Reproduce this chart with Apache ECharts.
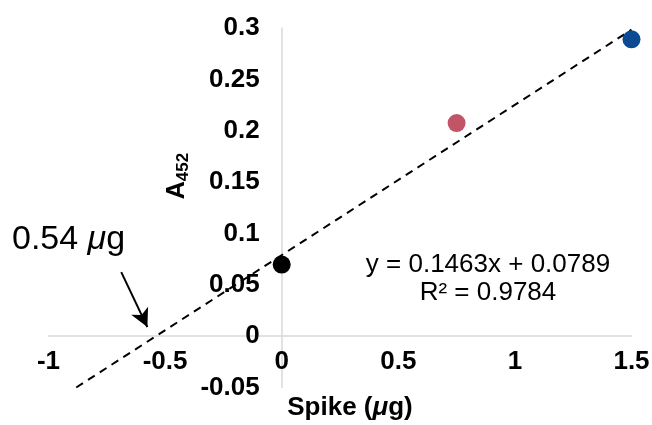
<!DOCTYPE html>
<html>
<head>
<meta charset="utf-8">
<script src="https://cdn.jsdelivr.net/npm/echarts@6/dist/echarts.min.js"></script>
<style>
  html, body { margin: 0; padding: 0; background: #fff; }
  #chart { width: 652px; height: 425px; }
</style>
</head>
<body>
<div id="chart"></div>
<script>
// Standard-addition spike data
const spikeAmounts = [0, 0.75, 1.5];
const absorbance = [0.0697, 0.2074, 0.2890];
const pointColors = ['#000000', '#c25467', '#0b4a92'];

// Linear fit stated on the chart
const fitSlope = 0.1463;
const fitIntercept = 0.0789;
const fitR2 = 0.9784;

const xTicks = [-1, -0.5, 0, 0.5, 1, 1.5];
const yTicks = [-0.05, 0, 0.05, 0.1, 0.15, 0.2, 0.25, 0.3];

const xMin = xTicks[0], xMax = xTicks[xTicks.length - 1];
const yMin = yTicks[0], yMax = yTicks[yTicks.length - 1];

// Trend line runs from where it enters the plot at the bottom edge to the last spike
const trendStartX = (yMin - fitIntercept) / fitSlope;
const trendLine = [trendStartX, xMax].map(x => [x, fitIntercept + fitSlope * x]);

// Arrow marking the x-intercept (endpoints in data units)
const arrowFrom = [-0.688, 0.0623];
const arrowTo = [-0.576, 0.0088];

// Plot area in pixels
const gridLeft = 48.5, gridRight = 20.5, gridTop = 28, gridBottom = 37.5;
const W = 652, H = 425;
const plotW = W - gridLeft - gridRight;
const plotH = H - gridTop - gridBottom;
// Axes cross at the origin: shift each axis from its grid edge onto zero
const xAxisShift = -plotH * (0 - yMin) / (yMax - yMin);
const yAxisShift = -plotW * (0 - xMin) / (xMax - xMin);

const chart = echarts.init(document.getElementById('chart'), null, { renderer: 'canvas' });

const labelFont = {
  fontFamily: 'Liberation Sans, Arial, Helvetica, sans-serif',
  fontWeight: 'bold',
  fontSize: 26,
  color: '#000'
};
const fmt = v => String(+v.toFixed(2));

chart.setOption({
  animation: false,
  backgroundColor: '#fff',
  grid: {
    left: gridLeft, right: gridRight, top: gridTop, bottom: gridBottom,
    containLabel: false,
    outerBoundsMode: 'none'
  },
  xAxis: {
    type: 'value',
    min: xMin, max: xMax, interval: 0.5,
    offset: xAxisShift,
    axisLine: { onZero: false, lineStyle: { color: '#d9d9d9', width: 1.5 } },
    axisTick: { show: false },
    splitLine: { show: false },
    axisLabel: Object.assign({ margin: 13, formatter: fmt }, labelFont)
  },
  yAxis: {
    type: 'value',
    min: yMin, max: yMax, interval: 0.05,
    offset: yAxisShift,
    axisLine: { onZero: false, lineStyle: { color: '#d9d9d9', width: 1.5 } },
    axisTick: { show: false },
    splitLine: { show: false },
    axisLabel: Object.assign({ margin: 22, formatter: fmt }, labelFont)
  },
  series: [
    {
      type: 'line',
      data: trendLine,
      showSymbol: false,
      symbol: 'none',
      lineStyle: { color: '#000', width: 2, type: [8, 6] },
      z: 2,
      silent: true,
      markLine: {
        silent: true,
        symbol: ['none', 'arrow'],
        symbolSize: [14, 18],
        label: { show: false },
        lineStyle: { color: '#000', width: 2, type: 'solid' },
        data: [[{ coord: arrowFrom }, { coord: arrowTo }]]
      }
    },
    {
      type: 'scatter',
      data: spikeAmounts.map((x, i) => ({
        value: [x, absorbance[i]],
        itemStyle: { color: pointColors[i], opacity: 1 }
      })),
      symbol: 'circle',
      symbolSize: 18,
      z: 3
    }
  ],
  graphic: [
    {
      type: 'text',
      style: {
        x: 488, y: 279,
        text: 'y = ' + fitSlope.toFixed(4) + 'x + ' + fitIntercept.toFixed(4) + '\nR² = ' + fitR2.toFixed(4),
        align: 'center', verticalAlign: 'middle',
        font: '26px "Liberation Sans", Arial, Helvetica, sans-serif',
        lineHeight: 28,
        fill: '#000'
      }
    },
    {
      type: 'text',
      style: {
        x: 12, y: 240,
        text: '{n|0.54 }{mu|μ}{n|g}',
        verticalAlign: 'middle',
        rich: {
          n: { fontFamily: 'Liberation Sans, Arial, sans-serif', fontSize: 34, color: '#000' },
          mu: { fontFamily: 'Liberation Sans, Arial, sans-serif', fontSize: 34, fontStyle: 'italic', color: '#000' }
        }
      }
    },
    {
      type: 'text',
      style: {
        x: 350, y: 408,
        text: '{b|Spike (}{mu|μ}{b|g)}',
        align: 'center', verticalAlign: 'middle',
        rich: {
          b: { fontFamily: 'Liberation Sans, Arial, sans-serif', fontSize: 26, fontWeight: 'bold', color: '#000' },
          mu: { fontFamily: 'Liberation Sans, Arial, sans-serif', fontSize: 26, fontWeight: 'bold', fontStyle: 'italic', color: '#000' }
        }
      }
    },
    {
      type: 'text',
      x: 177, y: 176,
      rotation: Math.PI / 2,
      style: {
        x: 0, y: 0,
        text: '{a|A}{s|452}',
        align: 'center', verticalAlign: 'middle',
        rich: {
          a: { fontFamily: 'Liberation Sans, Arial, sans-serif', fontSize: 25, fontWeight: 'bold', color: '#000' },
          s: { fontFamily: 'Liberation Sans, Arial, sans-serif', fontSize: 17, fontWeight: 'bold', color: '#000', padding: [12, 0, 0, 0] }
        }
      }
    }
  ]
});
</script>
</body>
</html>
